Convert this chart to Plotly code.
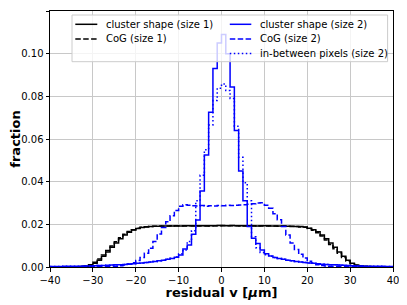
import plotly.graph_objects as go

# ---------------- data (fraction per 1 µm bin, bins from -40 to 40) ----------------
bin_edges = list(range(-40, 41))

cluster_size1 = [
    0.0000, 0.0000, 0.0000, 0.0000, 0.0000, 0.0001,                      # -40..-35
    0.0001, 0.0002, 0.0004, 0.0008, 0.0018, 0.0032, 0.0050, 0.0070,      # -34..-27
    0.0092, 0.0113, 0.0132, 0.0150, 0.0163, 0.0173, 0.0180, 0.0185,      # -26..-19
    0.0188, 0.0190, 0.0191, 0.0191, 0.0192, 0.0192, 0.0192, 0.0193,      # -18..-11
    0.0192, 0.0193, 0.0193, 0.0192, 0.0193, 0.0193, 0.0192, 0.0193,      # -10..-3
    0.0193, 0.0194, 0.0193, 0.0193, 0.0194, 0.0193, 0.0193, 0.0192,      # -2..5
    0.0193, 0.0193, 0.0192, 0.0193, 0.0193, 0.0192, 0.0192, 0.0192,      # 6..13
    0.0192, 0.0191, 0.0191, 0.0190, 0.0190, 0.0187, 0.0182, 0.0175,      # 14..21
    0.0165, 0.0150, 0.0132, 0.0112, 0.0092, 0.0070, 0.0050, 0.0032,      # 22..29
    0.0018, 0.0009, 0.0005, 0.0003, 0.0002, 0.0001, 0.0001, 0.0001,      # 30..37
    0.0000, 0.0000,                                                      # 38..39
]

cog_size1 = [
    0.0000, 0.0000, 0.0000, 0.0000, 0.0000, 0.0001,
    0.0001, 0.0002, 0.0005, 0.0010, 0.0022, 0.0038, 0.0056, 0.0077,
    0.0098, 0.0118, 0.0137, 0.0153, 0.0166, 0.0175, 0.0182, 0.0186,
    0.0189, 0.0190, 0.0191, 0.0192, 0.0191, 0.0192, 0.0193, 0.0192,
    0.0193, 0.0192, 0.0193, 0.0193, 0.0192, 0.0193, 0.0193, 0.0192,
    0.0193, 0.0193, 0.0194, 0.0193, 0.0193, 0.0193, 0.0192, 0.0193,
    0.0193, 0.0192, 0.0193, 0.0192, 0.0192, 0.0193, 0.0192, 0.0191,
    0.0192, 0.0191, 0.0190, 0.0190, 0.0188, 0.0186, 0.0180, 0.0172,
    0.0160, 0.0145, 0.0126, 0.0106, 0.0085, 0.0064, 0.0045, 0.0028,
    0.0015, 0.0008, 0.0004, 0.0002, 0.0001, 0.0001, 0.0001, 0.0000,
    0.0000, 0.0000,
]

cluster_size2 = [
    0.0002, 0.0002, 0.0002, 0.0003, 0.0003, 0.0003, 0.0004, 0.0004,      # -40..-33
    0.0005, 0.0005, 0.0006, 0.0007, 0.0007, 0.0008, 0.0009, 0.0010,      # -32..-25
    0.0011, 0.0012, 0.0014, 0.0015, 0.0017, 0.0019, 0.0021, 0.0023,      # -24..-17
    0.0026, 0.0029, 0.0032, 0.0036, 0.0040, 0.0046, 0.0056, 0.0084,      # -16..-9
    0.0103, 0.0153, 0.0220, 0.0356, 0.0525, 0.0725, 0.0930, 0.1050,      # -8..-1
    0.1090, 0.1000, 0.0844, 0.0640, 0.0450, 0.0310, 0.0190, 0.0135,      # 0..7
    0.0110, 0.0080, 0.0062, 0.0052, 0.0045, 0.0040, 0.0036, 0.0032,      # 8..15
    0.0029, 0.0026, 0.0023, 0.0021, 0.0019, 0.0017, 0.0015, 0.0013,      # 16..23
    0.0012, 0.0011, 0.0010, 0.0009, 0.0008, 0.0007, 0.0006, 0.0005,      # 24..31
    0.0005, 0.0004, 0.0004, 0.0003, 0.0003, 0.0003, 0.0002, 0.0002,      # 32..39
]

cog_size2 = [
    0.0001, 0.0001, 0.0001, 0.0001, 0.0001, 0.0001, 0.0001, 0.0002,      # -40..-33
    0.0002, 0.0002, 0.0002, 0.0003, 0.0003, 0.0003, 0.0003, 0.0004,      # -32..-25
    0.0006, 0.0009, 0.0013, 0.0020, 0.0030, 0.0045, 0.0064, 0.0088,      # -24..-17
    0.0120, 0.0155, 0.0185, 0.0212, 0.0240, 0.0265, 0.0285, 0.0292,      # -16..-9
    0.0290, 0.0287, 0.0286, 0.0288, 0.0285, 0.0287, 0.0286, 0.0288,      # -8..-1
    0.0287, 0.0289, 0.0288, 0.0290, 0.0291, 0.0292, 0.0294, 0.0297,      # 0..7
    0.0300, 0.0301, 0.0290, 0.0275, 0.0250, 0.0222, 0.0190, 0.0150,      # 8..15
    0.0112, 0.0082, 0.0060, 0.0042, 0.0027, 0.0018, 0.0011, 0.0007,      # 16..23
    0.0005, 0.0004, 0.0003, 0.0003, 0.0003, 0.0002, 0.0002, 0.0002,      # 24..31
    0.0002, 0.0001, 0.0001, 0.0001, 0.0001, 0.0001, 0.0001, 0.0001,      # 32..39
]

between_size2 = [
    0.0002, 0.0002, 0.0002, 0.0003, 0.0003, 0.0003, 0.0004, 0.0004,
    0.0005, 0.0005, 0.0006, 0.0007, 0.0007, 0.0008, 0.0009, 0.0010,
    0.0011, 0.0012, 0.0014, 0.0015, 0.0017, 0.0019, 0.0021, 0.0023,
    0.0026, 0.0029, 0.0032, 0.0036, 0.0041, 0.0048, 0.0062, 0.0080,
    0.0120, 0.0170, 0.0310, 0.0430, 0.0550, 0.0666, 0.0780, 0.0838,
    0.0858, 0.0827, 0.0790, 0.0660, 0.0514, 0.0395, 0.0310, 0.0142,
    0.0090, 0.0068, 0.0058, 0.0050, 0.0045, 0.0040, 0.0036, 0.0032,
    0.0029, 0.0026, 0.0023, 0.0021, 0.0019, 0.0017, 0.0015, 0.0013,
    0.0012, 0.0011, 0.0010, 0.0009, 0.0008, 0.0007, 0.0006, 0.0005,
    0.0005, 0.0004, 0.0004, 0.0003, 0.0003, 0.0003, 0.0002, 0.0002,
]

x_ticks = [-40, -30, -20, -10, 0, 10, 20, 30, 40]
y_ticks = [0.00, 0.02, 0.04, 0.06, 0.08, 0.10, 0.12]

series = [
    ("cluster shape (size 1)", cluster_size1, "black", "solid"),
    ("CoG (size 1)", cog_size1, "black", "5.5px,2.4px"),
    ("cluster shape (size 2)", cluster_size2, "blue", "solid"),
    ("CoG (size 2)", cog_size2, "blue", "5.5px,2.4px"),
    ("in-between pixels (size 2)", between_size2, "blue", "1.5px,2.5px"),
]

FONT = "DejaVu Sans"
fig = go.Figure()
for name, vals, color, dash in series:
    assert len(vals) == len(bin_edges) - 1, name
    fig.add_trace(go.Scatter(
        x=bin_edges, y=list(vals) + [vals[-1]],
        mode="lines", line=dict(shape="hv", color=color, width=1.5, dash=dash),
        name=name, showlegend=False,
    ))

# ---------------- manual legend (matplotlib style), positions in page pixels ----------------
L, R, T, B = 49.7, 392.7, 11.0, 267.0
def px(xp):
    return (xp - L) / (R - L)
def py(yp):
    return (B - yp) / (B - T)

shapes = [dict(type="rect", xref="paper", yref="paper",
               x0=px(71.7), x1=px(387.3), y0=py(61.7), y1=py(15.0),
               fillcolor="rgba(255,255,255,0.8)", line=dict(color="#cccccc", width=1),
               layer="above")]
annotations = []
cols = [(75.0, 97.0, 104.0), (229.5, 251.0, 257.5)]
rows = [24.3, 38.9, 53.5]
slots = [(0, 0, 0), (0, 1, 1), (1, 0, 2), (1, 1, 3), (1, 2, 4)]
for c, r, idx in slots:
    name, vals, color, dash = series[idx]
    x0, x1, xt = cols[c]
    yy = py(rows[r])
    shapes.append(dict(type="line", xref="paper", yref="paper",
                       x0=px(x0), x1=px(x1), y0=yy, y1=yy,
                       line=dict(color=color, width=1.5, dash=dash), layer="above"))
    annotations.append(dict(xref="paper", yref="paper", x=px(xt), y=yy,
                            text=name, showarrow=False, xanchor="left", yanchor="middle",
                            font=dict(family=FONT, size=10, color="black")))

# the page body has an 8px margin, so the figure is 8px smaller and offset
fig.update_layout(
    width=399, height=297,
    margin=dict(l=42, r=14, t=3, b=38),
    paper_bgcolor="white", plot_bgcolor="white",
    font=dict(family=FONT, size=10, color="black"),
    shapes=shapes, annotations=annotations,
    showlegend=False,
)
fig.update_xaxes(
    range=[-40, 40], tickvals=x_ticks, ticktext=[f"{v:d}".replace("-", "\u2212") for v in x_ticks],
    showgrid=True, gridcolor="#c8c8c8", gridwidth=1,
    showline=True, linecolor="black", linewidth=1, mirror=True,
    ticks="outside", ticklen=3.5, tickcolor="black", tickwidth=1,
    tickfont=dict(family=FONT, size=10),
    zeroline=False, automargin=False,
    title=dict(text="<b>residual v [<i>\u03bc</i>m]</b>", font=dict(family=FONT, size=13), standoff=0),
)
fig.update_yaxes(
    range=[0, 0.12], tickvals=y_ticks, ticktext=[f"{v:.2f}" for v in y_ticks],
    showgrid=True, gridcolor="#c8c8c8", gridwidth=1,
    showline=True, linecolor="black", linewidth=1, mirror=True,
    ticks="outside", ticklen=3.5, tickcolor="black", tickwidth=1,
    tickfont=dict(family=FONT, size=10),
    zeroline=False, automargin=False,
    title=dict(text="<b>fraction</b>", font=dict(family=FONT, size=13), standoff=8),
)

fig.write_html("out.html")
